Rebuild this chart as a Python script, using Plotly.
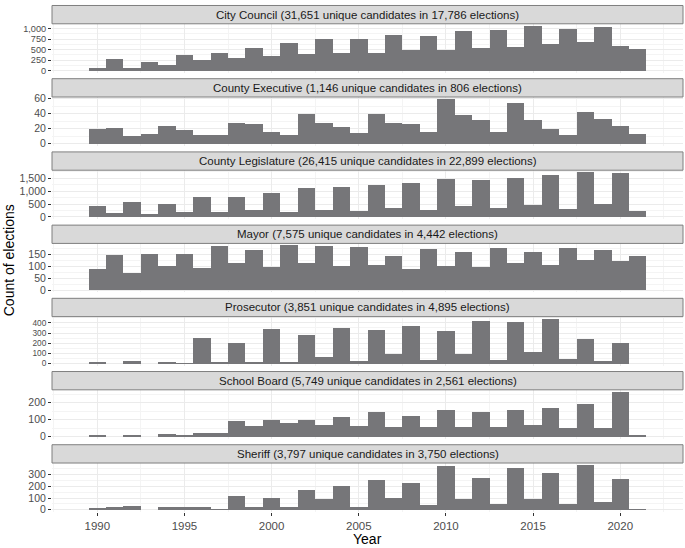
import plotly.graph_objects as go

years = list(range(1990, 2022))

titles = [
    "City Council (31,651 unique candidates in 17,786 elections)",
    "County Executive (1,146 unique candidates in 806 elections)",
    "County Legislature (26,415 unique candidates in 22,899 elections)",
    "Mayor (7,575 unique candidates in 4,442 elections)",
    "Prosecutor (3,851 unique candidates in 4,895 elections)",
    "School Board (5,749 unique candidates in 2,561 elections)",
    "Sheriff (3,797 unique candidates in 3,750 elections)",
]

city_council = [63, 283, 63, 220, 126, 386, 260, 425, 300, 543, 346, 669, 409, 764, 433, 748,
                433, 850, 504, 827, 488, 961, 535, 984, 575, 1063, 630, 992, 677, 1047, 583, 520]
county_executive = [20, 21, 10, 13, 24, 18, 11, 12, 27, 26, 16, 12, 39, 28, 22, 14,
                    40, 28, 26, 15, 59, 38, 31, 16, 54, 32, 19, 11, 42, 33, 24, 13]
county_legislature = [400, 150, 560, 120, 490, 170, 750, 200, 780, 260, 910, 200, 1130, 260, 1150, 230,
                      1230, 330, 1300, 280, 1460, 430, 1420, 330, 1480, 470, 1610, 290, 1720, 480, 1700, 240]
mayor = [86, 146, 69, 153, 99, 151, 91, 183, 111, 169, 96, 188, 113, 186, 101, 179,
         103, 143, 89, 171, 99, 161, 97, 176, 111, 159, 106, 175, 126, 169, 121, 143]
prosecutor = [10, 0, 30, 0, 15, 5, 255, 8, 205, 15, 345, 15, 285, 65, 355, 25,
              330, 95, 370, 40, 320, 100, 425, 40, 410, 115, 440, 50, 245, 30, 210, 0]
school_board = [8, 0, 12, 0, 15, 5, 25, 20, 90, 65, 100, 80, 98, 70, 115, 65,
                145, 60, 125, 58, 158, 60, 145, 58, 160, 70, 168, 50, 195, 50, 262, 5]
sheriff = [17, 26, 29, 0, 23, 26, 26, 5, 117, 26, 100, 26, 171, 89, 200, 26,
           251, 103, 231, 40, 369, 91, 266, 51, 357, 94, 309, 49, 378, 69, 257, 5]

series = [city_council, county_executive, county_legislature, mayor,
          prosecutor, school_board, sheriff]
y_dticks = [250, 20, 500, 50, 100, 100, 100]
y_tickfont = [9.2, 10.5, 10.5, 10.5, 8.3, 10.5, 10.5]

x_ticks = [1990, 1995, 2000, 2005, 2010, 2015, 2020]

W, H = 685, 548
T, B = 0, 35.5
PH = H - T - B
L, R = 52, 1.5
PW = W - L - R
period = 74.0
panel_top0 = 19.0
panel_h = 49.5
strip_h = 18.5

BAR = "#767679"
GRID = "#EBEBEB"
MINOR = "#F4F4F4"
FONT = "Liberation Sans, Arial, sans-serif"

fig = go.Figure()
layout = dict(
    width=W, height=H,
    margin=dict(l=L, r=R, t=T, b=B),
    paper_bgcolor="white", plot_bgcolor="white",
    showlegend=False, bargap=0,
    font=dict(family=FONT, color="#4D4D4D", size=11),
)
shapes = []
annotations = []

def py(px):
    return 1 - px / PH

for k, (vals, title, dt, tfs) in enumerate(zip(series, titles, y_dticks, y_tickfont)):
    idx = "" if k == 0 else str(k + 1)
    xa = "x" + idx
    ya = "y" + idx
    fig.add_trace(go.Bar(x=years, y=vals, width=1.0, marker=dict(color=BAR, line=dict(width=0)),
                         xaxis=xa, yaxis=ya, hoverinfo="x+y"))
    top = panel_top0 + period * k
    bot = top + panel_h
    vmax = max(vals)
    layout["xaxis" + idx] = dict(
        domain=[0, 1], anchor=ya, range=[1987.4, 2023.6],
        tickmode="array", tickvals=x_ticks, showticklabels=(k == 6),
        ticks="outside" if k == 6 else "", ticklen=3, tickcolor="#333333",
        showgrid=True, gridcolor=GRID, gridwidth=1,
        minor=dict(dtick=2.5, tick0=1987.5, showgrid=True, gridcolor=MINOR, gridwidth=0.6),
        zeroline=False, showline=False,
        tickfont=dict(size=11.5, color="#4D4D4D"),
        fixedrange=True,
    )
    layout["yaxis" + idx] = dict(
        domain=[py(bot), py(top)], anchor=xa,
        range=[-0.05 * vmax, 1.05 * vmax],
        tick0=0, dtick=dt, tickformat=",d",
        ticks="outside", ticklen=3, tickcolor="#333333",
        showgrid=True, gridcolor=GRID, gridwidth=1,
        minor=dict(dtick=dt / 2, tick0=dt / 2, showgrid=True, gridcolor=MINOR, gridwidth=0.6),
        zeroline=False, showline=False,
        tickfont=dict(size=tfs, color="#4D4D4D"),
        fixedrange=True,
    )
    s_top = top - strip_h
    shapes.append(dict(type="rect", xref="paper", yref="paper",
                       x0=0, x1=1, y0=py(top), y1=py(s_top),
                       fillcolor="#D9D9D9", line=dict(color="#7F7F7F", width=1), layer="above"))
    annotations.append(dict(text=title, xref="paper", yref="paper", x=0.5,
                            y=(py(top) + py(s_top)) / 2, showarrow=False,
                            xanchor="center", yanchor="middle",
                            font=dict(size=11.5, color="#1A1A1A", family=FONT)))

annotations.append(dict(text="Year", xref="paper", yref="paper", x=0.5, y=py(539.5),
                        showarrow=False, xanchor="center", yanchor="middle",
                        font=dict(size=14, color="#000000", family=FONT)))
annotations.append(dict(text="Count of elections", xref="paper", yref="paper",
                        x=(9 - L) / PW, y=py(258), textangle=-90,
                        showarrow=False, xanchor="center", yanchor="middle",
                        font=dict(size=14, color="#000000", family=FONT)))

layout["shapes"] = shapes
layout["annotations"] = annotations
fig.update_layout(**layout)
fig.write_html("out.html")
